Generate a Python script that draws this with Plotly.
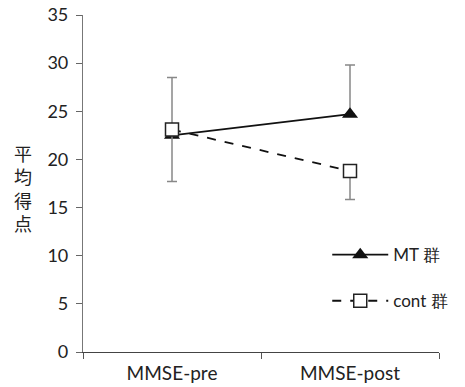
import plotly.graph_objects as go

categories = ["MMSE-pre", "MMSE-post"]
mt_values = [22.5, 24.7]
mt_err_up = [6.0, 5.1]
cont_values = [23.1, 18.8]
cont_err_down = [5.4, 2.95]
y_ticks = [0, 5, 10, 15, 20, 25, 30, 35]

FONT = "Lato, Noto Sans, sans-serif"

fig = go.Figure()
fig.add_trace(go.Scatter(
    x=categories, y=mt_values, name="MT 群", mode="lines+markers",
    legendgroup="a",
    line=dict(color="#111111", width=1.8),
    marker=dict(symbol="triangle-up", size=14, color="#111111"),
    error_y=dict(type="data", symmetric=False, array=mt_err_up,
                 arrayminus=[0, 0], color="#888888", thickness=1.5, width=5),
))
fig.add_trace(go.Scatter(
    x=categories, y=cont_values, name="cont 群", mode="lines+markers",
    legendgroup="b",
    line=dict(color="#111111", width=1.8, dash="dash"),
    marker=dict(symbol="square", size=13, color="white",
                line=dict(color="#222222", width=1.5)),
    error_y=dict(type="data", symmetric=False, array=[0, 0],
                 arrayminus=cont_err_down, color="#888888", thickness=1.5, width=5),
))

fig.update_layout(
    width=465, height=387,
    margin=dict(l=83, r=15, t=15, b=35),
    paper_bgcolor="white", plot_bgcolor="white",
    font=dict(family=FONT, size=18, color="#222222"),
    showlegend=True,
    legend=dict(x=1.04, y=0.341, xanchor="right", yanchor="top",
                bgcolor="rgba(0,0,0,0)", tracegroupgap=21, itemwidth=56,
                font=dict(size=17, color="#222222")),
    xaxis=dict(type="category", range=[-0.5, 1.5], tickson="boundaries",
               ticks="outside", ticklen=6, tickcolor="#555555",
               ticklabelstandoff=4, tickfont=dict(size=19),
               showline=True, linecolor="#444444", linewidth=1.2,
               showgrid=False, zeroline=False, automargin=False),
    yaxis=dict(range=[0, 35], tickvals=y_ticks, ticks="outside", ticklen=6,
               tickcolor="#666666", ticklabelstandoff=4,
               showline=True, linecolor="#777777",
               linewidth=1.2, showgrid=False, zeroline=False, automargin=False),
    annotations=[dict(text="平<br>均<br>得<br>点", xref="paper", yref="paper",
                      x=-0.168, y=0.487, showarrow=False, xanchor="center",
                      yanchor="middle",
                      font=dict(family="Noto Sans CJK JP", size=18, color="#222222"))],
)

fig.write_html("out.html", config={"displayModeBar": False},
               post_script="document.body.style.margin='0px';")
